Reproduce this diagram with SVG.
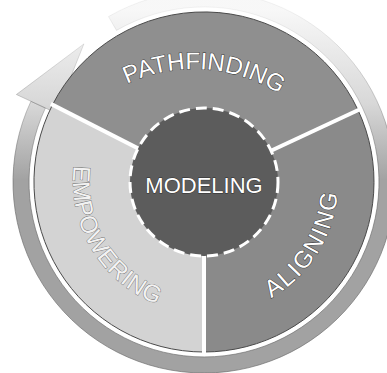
<svg xmlns="http://www.w3.org/2000/svg" width="387" height="373" viewBox="0 0 387 373">
  <defs>
    <linearGradient id="fade" gradientUnits="userSpaceOnUse" x1="0" y1="10" x2="0" y2="180">
      <stop offset="0" stop-color="#a2a2a2" stop-opacity="0.08"/>
      <stop offset="0.55" stop-color="#a2a2a2" stop-opacity="0.42"/>
      <stop offset="1" stop-color="#a2a2a2" stop-opacity="1"/>
    </linearGradient>
    <linearGradient id="fadeStroke" gradientUnits="userSpaceOnUse" x1="0" y1="10" x2="0" y2="180">
      <stop offset="0" stop-color="#6e6e6e" stop-opacity="0.1"/>
      <stop offset="0.55" stop-color="#6e6e6e" stop-opacity="0.45"/>
      <stop offset="1" stop-color="#6e6e6e" stop-opacity="0.85"/>
    </linearGradient>
    <path id="arcPath" d="M47.6,164.6 A160,160 0 0 1 347.6,184.2"/>
    <path id="arcEmp" d="M118.1,83.1 A131,131 0 0 0 250.9,304.3"/>
    <path id="arcAli" d="M176.1,313.1 A134,134 0 0 0 309.6,99.5"/>
  </defs>
  <style>
    .seg { stroke: #4a4a4a; stroke-width: 1; }
    .div { stroke: #ffffff; stroke-width: 4; stroke-linecap: butt; }
    .lbl { font-family: "Liberation Sans", Arial, sans-serif; font-size: 24px; fill: #ffffff; stroke: #2e2e2e; stroke-width: 0.9px; paint-order: stroke; }
    .band { fill: url(#fade); stroke: url(#fadeStroke); stroke-width: 0.8; }
  </style>
  <rect width="387" height="373" fill="#ffffff"/>

  <g id="cycle-arrow">
    <path class="band" d="M108.5,16.6 A191,191 0 1 1 30.9,101.3 L45.4,108.0 A175,175 0 1 0 116.5,30.4 Z"/>
    <polygon class="band" points="16.4,94.5 83.9,43.9 56.3,113.1"/>
  </g>

  <g id="pathfinding">
    <path class="seg" fill="#8f8f8f" d="M204,182 L52.5,104.8 A170,170 0 0 1 358.1,110.2 Z"/>
    <text class="lbl"><textPath href="#arcPath" startOffset="50%" text-anchor="middle">PATHFINDING</textPath></text>
  </g>

  <g id="aligning">
    <path class="seg" fill="#8a8a8a" d="M204,182 L358.1,110.2 A170,170 0 0 1 204,352 Z"/>
    <text class="lbl" letter-spacing="2"><textPath href="#arcAli" startOffset="50%" text-anchor="middle">ALIGNING</textPath></text>
  </g>

  <g id="empowering">
    <path class="seg" fill="#d3d3d3" d="M204,182 L204,352 A170,170 0 0 1 52.5,104.8 Z"/>
    <text class="lbl" letter-spacing="0.5" style="stroke:#6a6a6a;stroke-width:0.8px;fill:#f2f2f2"><textPath href="#arcEmp" startOffset="50%" text-anchor="middle">EMPOWERING</textPath></text>
  </g>

  <g id="dividers">
    <line class="div" x1="204" y1="182" x2="50.8" y2="103.9"/>
    <line class="div" x1="204" y1="182" x2="360" y2="109.3"/>
    <line class="div" x1="204" y1="182" x2="204" y2="354"/>
  </g>

  <g id="modeling">
    <circle cx="204" cy="182" r="74" fill="#5c5c5c"/>
    <circle cx="204" cy="182" r="74" fill="none" stroke="#ffffff" stroke-width="3" stroke-dasharray="11 6"/>
    <text class="lbl" x="204" y="193" text-anchor="middle" style="font-size:22px">MODELING</text>
  </g>
</svg>
